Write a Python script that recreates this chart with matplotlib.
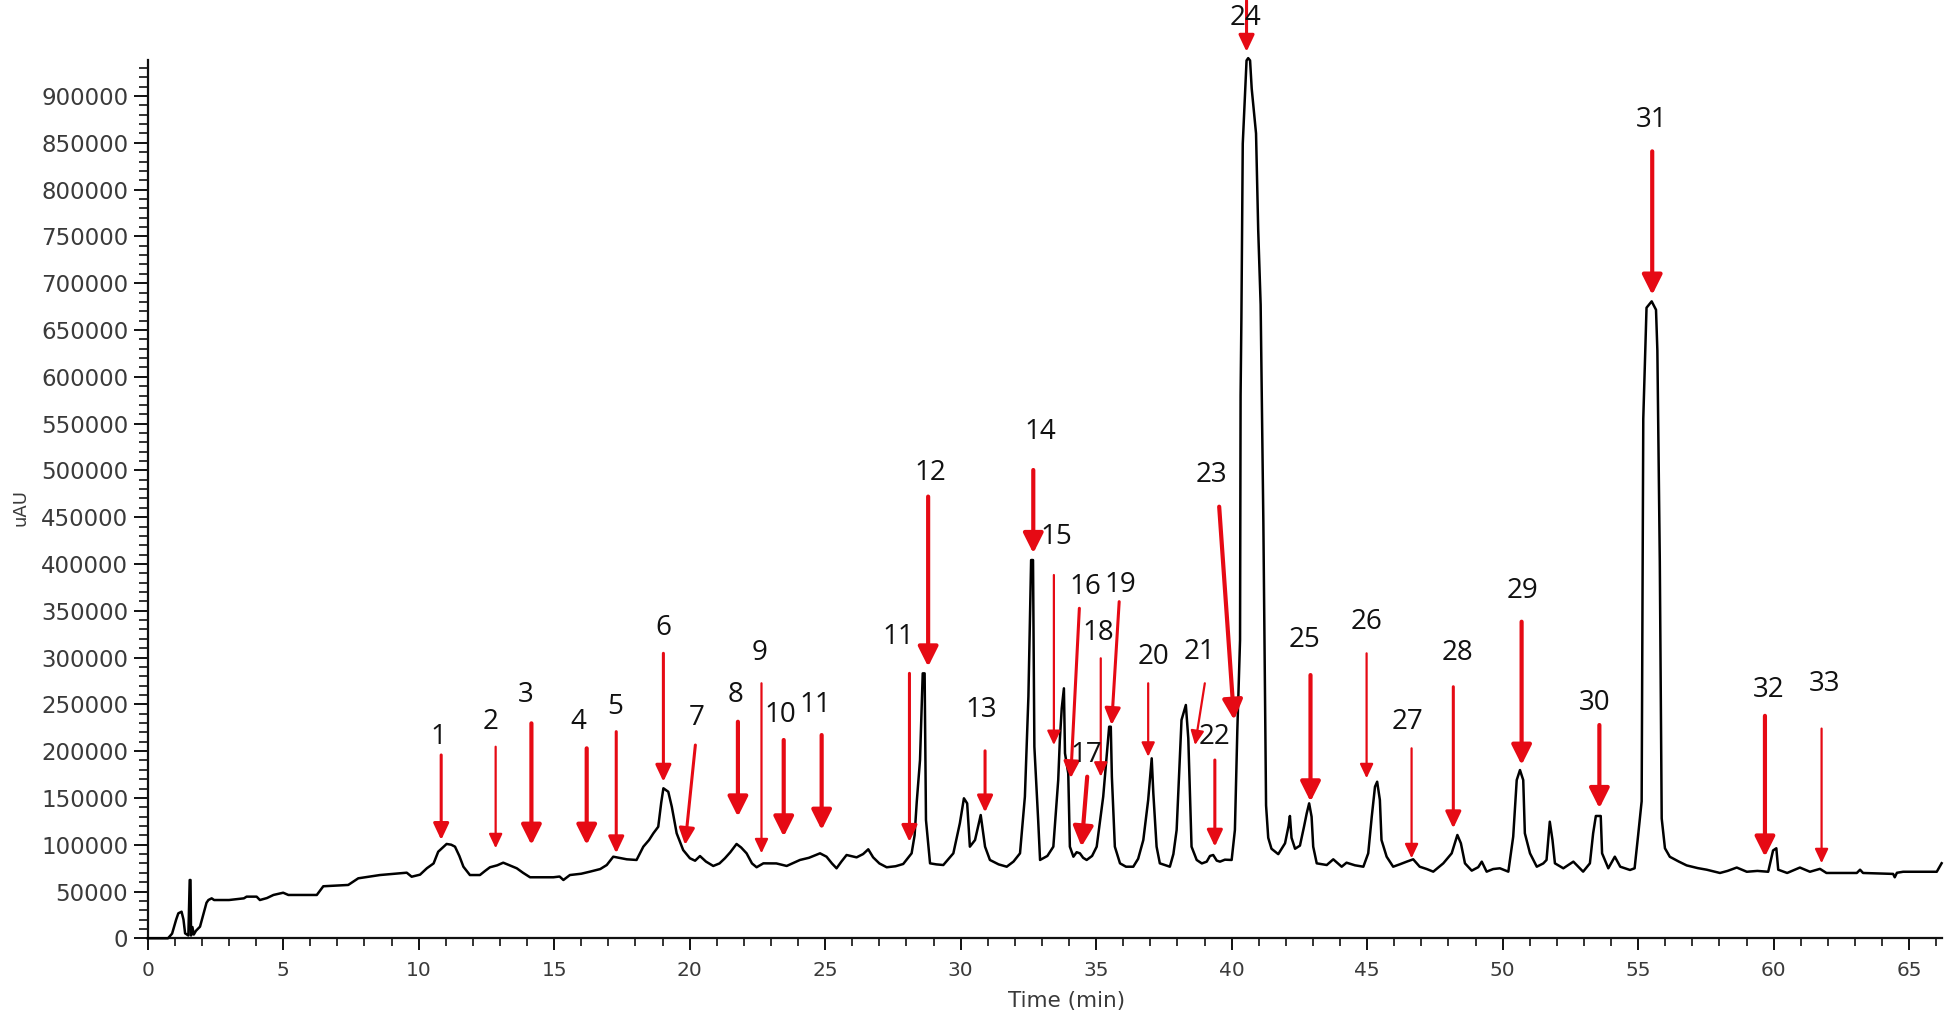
import matplotlib
matplotlib.use("Agg")
import matplotlib.pyplot as plt
from matplotlib.ticker import MultipleLocator, FuncFormatter

# ---------------- data ----------------
time_min = [
    0.00, 0.75, 0.90, 1.05, 1.13, 1.25, 1.32, 1.38, 1.50, 1.55, 1.58, 1.60, 1.65, 1.70, 1.78,
    1.93, 2.05, 2.17, 2.24, 2.36, 2.45, 3.00, 3.55, 3.65, 4.02, 4.14, 4.40, 4.64, 5.00, 5.19,
    6.24, 6.48, 7.40, 7.77, 8.57, 9.56, 9.74, 10.05, 10.30, 10.55, 10.72, 11.03, 11.20, 11.34,
    11.50, 11.65, 11.89, 12.26, 12.45, 12.63, 12.90, 13.12, 13.35, 13.62, 13.85, 14.11, 14.97,
    15.20, 15.34, 15.58, 16.00, 16.32, 16.70, 16.94, 17.18, 17.40, 17.68, 18.04, 18.29, 18.50,
    18.66, 18.84, 18.95, 19.03, 19.21, 19.34, 19.52, 19.76, 20.01, 20.20, 20.38, 20.60, 20.87,
    21.10, 21.30, 21.50, 21.73, 21.90, 22.10, 22.30, 22.47, 22.72, 23.20, 23.58, 24.07, 24.40,
    24.81, 25.05, 25.25, 25.42, 25.60, 25.79, 26.16, 26.40, 26.59, 26.77, 27.00, 27.27, 27.60,
    27.88, 28.19, 28.30, 28.38, 28.50, 28.60, 28.67, 28.72, 28.87, 29.10, 29.36, 29.73, 29.97,
    30.12, 30.24, 30.34, 30.53, 30.74, 30.90, 31.08, 31.40, 31.70, 31.95, 32.19, 32.37, 32.50,
    32.60, 32.67, 32.72, 32.86, 32.93, 33.20, 33.42, 33.60, 33.66, 33.73, 33.81, 33.85, 33.97,
    34.03, 34.16, 34.28, 34.40, 34.52, 34.65, 34.85, 35.02, 35.26, 35.48, 35.54, 35.58, 35.69,
    35.88, 36.10, 36.37, 36.55, 36.74, 36.92, 37.05, 37.11, 37.23, 37.35, 37.72, 37.85, 37.97,
    38.15, 38.31, 38.40, 38.52, 38.71, 38.90, 39.08, 39.20, 39.32, 39.45, 39.57, 39.75, 40.00,
    40.12, 40.21, 40.31, 40.33, 40.36, 40.41, 40.55, 40.61, 40.68, 40.74, 40.90, 40.98, 41.07,
    41.17, 41.27, 41.35, 41.47, 41.72, 41.97, 42.10, 42.15, 42.21, 42.34, 42.52, 42.67, 42.77,
    42.86, 42.95, 43.01, 43.14, 43.51, 43.75, 44.06, 44.24, 44.55, 44.86, 45.04, 45.17, 45.29,
    45.37, 45.47, 45.53, 45.72, 45.96, 46.20, 46.46, 46.70, 46.94, 47.20, 47.44, 47.81, 48.12,
    48.33, 48.46, 48.61, 48.86, 49.10, 49.23, 49.41, 49.65, 49.90, 50.21, 50.39, 50.52, 50.64,
    50.76, 50.82, 51.01, 51.26, 51.50, 51.62, 51.74, 51.84, 51.93, 52.24, 52.61, 52.97, 53.22,
    53.34, 53.44, 53.62, 53.67, 53.90, 54.14, 54.34, 54.70, 54.87, 55.00, 55.13, 55.19, 55.31,
    55.50, 55.66, 55.71, 55.80, 55.87, 55.99, 56.17, 56.50, 56.79, 57.20, 57.53, 58.02, 58.30,
    58.64, 59.01, 59.40, 59.80, 59.98, 60.10, 60.17, 60.50, 60.97, 61.34, 61.71, 61.95, 62.50,
    63.07, 63.19, 63.30, 64.41, 64.47, 64.55, 64.78, 66.02, 66.20,
]
signal_uAU = [
    0, 0, 5000, 20000, 26700, 28400, 20000, 5300, 3000, 62300, 62300, 3000, 12000, 4000, 8000,
    12400, 25000, 38000, 40900, 42700, 40900, 40900, 42700, 44500, 44500, 40900, 43000, 46300, 48700, 46300,
    46300, 55600, 57000, 64100, 67600, 70100, 65800, 68000, 74800, 80000, 92500, 100800, 100000, 97900,
    88000, 76500, 67600, 67600, 72000, 75900, 78000, 80800, 78000, 74800, 70000, 65200, 65200,
    66000, 62300, 67600, 69000, 71200, 74000, 78300, 87200, 86000, 84400, 83700, 97900, 105000,
    112200, 119200, 145000, 160300, 156600, 140600, 112200, 94300, 85500, 82900, 87900, 82000, 77300,
    80000, 85500, 92000, 100800, 97000, 90800, 80000, 75900, 80100, 80000, 77300, 83700, 86000,
    90800, 87200, 80000, 74800, 82000, 89000, 86500, 90000, 95100, 86500, 80000, 75900, 77000,
    79400, 90800, 110000, 146000, 190500, 283100, 283100, 126400, 80100, 79000, 78300, 90800, 122900,
    149600, 144200, 97900, 105000, 131700, 97900, 83700, 79000, 76500, 82000, 90800, 151300, 258200,
    404200, 404200, 204700, 126400, 83700, 88000, 97900, 169100, 211900, 245800, 267100, 197700, 176300,
    97900, 87200, 92000, 90800, 86000, 83700, 88000, 97900, 151300, 226100, 226100, 172700, 97900,
    80100, 76500, 76500, 85000, 105000, 147800, 192300, 154900, 97900, 80100, 76500, 90000, 115700,
    233300, 249300, 213700, 97900, 83700, 80000, 81900, 88000, 89000, 83000, 81900, 84000, 83700,
    115700, 222600, 318700, 580000, 663000, 849000, 938000, 940500, 938000, 908000, 860000, 757000, 677000,
    445000, 142000, 107400, 95700, 89900, 101500, 120000, 130700, 107400, 95700, 99000, 119200, 133500,
    144200, 129900, 97900, 80100, 78300, 84400, 76500, 80800, 78000, 76500, 90800, 129900, 162000,
    167300, 147800, 105000, 87200, 76500, 79000, 81900, 84400, 76500, 74000, 71200, 80100, 90800,
    110400, 101500, 80100, 72300, 76000, 81900, 71200, 74000, 74800, 71200, 108600, 169100, 179800,
    169100, 112200, 90800, 76500, 80000, 83700, 124600, 105000, 80100, 74800, 81900, 71200, 80100,
    112200, 130700, 130700, 90800, 74800, 87200, 76500, 73000, 74800, 110000, 146400, 555100, 673800,
    680600, 671600, 628200, 402100, 128100, 96200, 87100, 82000, 77900, 75000, 73300, 69800, 72000,
    75600, 71100, 72000, 71100, 93900, 96200, 73300, 69800, 75600, 71100, 74200, 69800, 69800,
    69800, 73300, 69800, 68800, 65200, 70000, 71100, 71100, 80200,
]

peak_labels = ["1", "2", "3", "4", "5", "6", "7", "8", "9", "10", "11", "11", "12", "13",
               "14", "15", "16", "17", "18", "19", "20", "21", "22", "23", "24", "25",
               "26", "27", "28", "29", "30", "31", "32", "33"]

y_ticks = list(range(0, 900001, 50000))
x_ticks = list(range(0, 66, 5))

# ---------------- layout of labels / arrows (data coords) ----------------
# (label_t, label_v, arrow_start_t, arrow_start_v, tip_t, tip_v, weight)
ann_layout = [
    (10.72, 215400, 10.83, 195900, 10.83, 105000, "mid"),
    (12.67, 231400, 12.84, 204700, 12.84, 96200, "thin"),
    (13.94, 260000, 14.16, 229700, 14.16, 99700, "thick"),
    (15.88, 231400, 16.20, 203000, 16.20, 99700, "thick"),
    (17.26, 247500, 17.29, 220800, 17.29, 90800, "mid"),
    (19.03, 331200, 19.03, 304500, 19.03, 167300, "mid"),
    (20.25, 235100, 20.21, 206500, 19.83, 99700, "mid"),
    (21.69, 260000, 21.78, 231400, 21.78, 129900, "thick"),
    (22.58, 304500, 22.65, 272500, 22.65, 90800, "thin"),
    (23.36, 238600, 23.47, 211900, 23.47, 108600, "thick"),
    (24.63, 249300, 24.87, 217200, 24.87, 115700, "thick"),
    (27.70, 322300, 28.11, 283100, 28.11, 103000, "mid"),
    (28.87, 497000, 28.80, 472000, 28.80, 290200, "thick"),
    (30.77, 244000, 30.90, 200300, 30.90, 134500, "mid"),
    (32.93, 541300, 32.68, 500400, 32.68, 411400, "thick"),
    (33.54, 429100, 33.44, 388200, 33.44, 206500, "thin"),
    (34.59, 375700, 34.38, 352600, 34.06, 171000, "mid"),
    (34.65, 195900, 34.67, 172700, 34.46, 97900, "thick"),
    (35.08, 325900, 35.17, 299200, 35.17, 172700, "thin"),
    (35.88, 377500, 35.85, 359700, 35.57, 227900, "mid"),
    (37.11, 300900, 36.92, 272500, 36.92, 194000, "thin"),
    (38.83, 306200, 39.01, 272500, 38.65, 206500, "thin"),
    (39.38, 215400, 39.38, 190500, 39.38, 97900, "mid"),
    (39.26, 495000, 39.54, 461200, 40.09, 233300, "thick"),
    (40.52, 983000, 40.55, 1002000, 40.55, 947300, "mid"),
    (42.70, 318700, 42.91, 281300, 42.91, 146000, "thick"),
    (44.98, 338300, 44.98, 304500, 44.98, 171000, "thin"),
    (46.48, 231400, 46.64, 203000, 46.64, 85500, "thin"),
    (48.34, 304500, 48.18, 268800, 48.18, 117500, "mid"),
    (50.73, 370700, 50.70, 338300, 50.70, 185200, "thick"),
    (53.41, 251100, 53.57, 227900, 53.57, 138900, "thick"),
    (55.49, 874000, 55.52, 840900, 55.52, 687500, "thick"),
    (59.80, 265100, 59.68, 237700, 59.68, 87100, "thick"),
    (61.89, 271900, 61.77, 224100, 61.77, 80200, "thin"),
]

arrow_styles = {
    "thick": dict(lw=3.0, hl=1.2, hw=0.6),
    "mid": dict(lw=2.2, hl=1.0, hw=0.47),
    "thin": dict(lw=1.6, hl=0.85, hw=0.4),
}

RED = "#e60a14"
GRAY = "#3a3a3a"

fig = plt.figure(figsize=(19.44, 10.17), dpi=100)
ax = fig.add_axes([0.07598, 0.07739, 0.9228, 0.8636])

ax.plot(time_min, signal_uAU, color="black", lw=1.8, clip_on=False, zorder=3)

ax.set_xlim(0, 66.2)
ax.set_ylim(0, 938500)

for s in ("top", "right"):
    ax.spines[s].set_visible(False)
for s in ("left", "bottom"):
    ax.spines[s].set_linewidth(1.6)
    ax.spines[s].set_color("#111111")

ax.set_xticks(x_ticks)
ax.set_yticks(y_ticks)
ax.xaxis.set_minor_locator(MultipleLocator(1))
ax.yaxis.set_minor_locator(MultipleLocator(10000))
ax.yaxis.set_major_formatter(FuncFormatter(lambda v, p: f"{int(round(v))}"))

ax.tick_params(axis="y", which="major", length=10, width=1.4, direction="out",
               labelsize=16.5, labelcolor=GRAY, pad=4, color="#111111")
ax.tick_params(axis="y", which="minor", length=6.5, width=1.2, direction="out", color="#111111")
ax.tick_params(axis="x", which="major", length=8.6, width=1.4, direction="out",
               labelsize=14.5, labelcolor=GRAY, pad=8, color="#111111")
ax.tick_params(axis="x", which="minor", length=5.8, width=1.2, direction="out", color="#111111")
for lab in ax.get_xticklabels() + ax.get_yticklabels():
    lab.set_family("DejaVu Sans")

ax.set_xlabel("Time (min)", fontsize=15.5, color=GRAY, family="DejaVu Sans")
ax.set_ylabel("uAU", fontsize=13, color=GRAY, family="DejaVu Sans")
ax.xaxis.set_label_coords(0.512, -0.060)
ax.yaxis.set_label_coords(-0.066, 0.49)

for name, (lt, lv, st, sv, tt, tv, w) in zip(peak_labels, ann_layout):
    stl = arrow_styles[w]
    ax.annotate("", xy=(tt, tv), xytext=(st, sv), annotation_clip=False,
                arrowprops=dict(arrowstyle=f"-|>,head_length={stl['hl']},head_width={stl['hw']}",
                                lw=stl["lw"], color=RED, shrinkA=0, shrinkB=0,
                                mutation_scale=10), zorder=4)
    ax.text(lt, lv, name, ha="center", va="center", fontsize=20, color="#111111",
            family=["Open Sans", "DejaVu Sans"], clip_on=False, zorder=5)

fig.savefig("out.png", dpi=100)
